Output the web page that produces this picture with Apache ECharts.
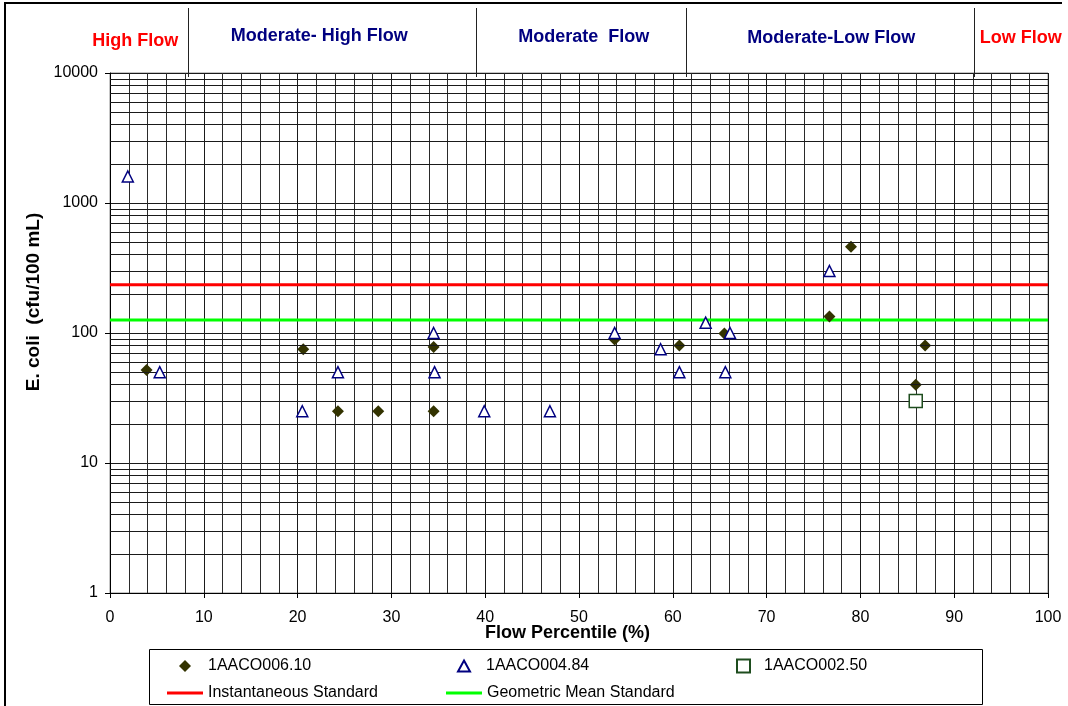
<!DOCTYPE html>
<html>
<head>
<meta charset="utf-8">
<script src="https://cdn.jsdelivr.net/npm/echarts@6/dist/echarts.min.js"></script>
<style>
  html, body { margin: 0; padding: 0; background: #fff; }
  #chart { width: 1068px; height: 706px; }
</style>
</head>
<body>
<div id="chart"></div>
<script>
// E. coli counts (cfu/100 mL) against flow percentile, by station
const station610Flow = [3.9, 20.6, 24.3, 28.6, 34.5, 34.5, 53.8, 60.7, 65.5, 76.7, 79.0, 85.9, 86.9];
const station610Ecoli = [52, 75, 25, 25, 78, 25, 89, 80, 99, 134, 461, 40, 80];

const station484Flow = [1.9, 5.3, 20.5, 24.3, 34.5, 34.6, 39.9, 46.9, 53.8, 58.7, 60.7, 63.5, 65.6, 66.1, 76.7];
const station484Ecoli = [1600, 50, 25, 50, 100, 50, 25, 25, 100, 75, 50, 120, 50, 100, 300];

const station250Flow = [85.9];
const station250Ecoli = [30];

// Water quality standards (cfu/100 mL)
const instantaneousStandard = 235;
const geometricMeanStandard = 126;

// Flow duration zones: boundaries and label anchors in flow-percentile units
const flowZoneNames = ['High Flow', 'Moderate- High Flow', 'Moderate  Flow', 'Moderate-Low Flow', 'Low Flow'];
const flowZoneCenters = [2.7, 22.3, 50.5, 76.9, 97.1];
const flowZoneBreaks = [8.3, 39.0, 61.4, 92.1];

// Axis ranges
const flowRange = [0, 100];
const ecoliDecades = [1, 10, 100, 1000];

const seriesNames = ['1AACO006.10', '1AACO004.84', '1AACO002.50', 'Instantaneous Standard', 'Geometric Mean Standard'];

const FONT = "'Liberation Sans', Arial, Helvetica, sans-serif";
const zoneColors = ['#ff0000', '#000080', '#000080', '#000080', '#ff0000'];
const zoneLabelY = [41, 36, 37, 38, 38];

const pair = (xs, ys) => xs.map((x, i) => [x, ys[i]]);

// horizontal minor grid of the log axis: 2..9 in every decade
const minorLogLines = [];
ecoliDecades.forEach(d => {
  for (let k = 2; k <= 9; k++) minorLogLines.push({ yAxis: k * d });
});

const chart = echarts.init(document.getElementById('chart'), null, { renderer: 'canvas' });

function legendFor(name, left, top, extra) {
  return Object.assign({
    left: left, top: top, padding: 0,
    orient: 'horizontal',
    selectedMode: false,
    data: [name],
    textStyle: { fontFamily: FONT, fontSize: 16, color: '#000' }
  }, extra);
}

const option = {
  animation: false,
  backgroundColor: '#fff',
  grid: {
    left: 110, top: 73, right: 20, bottom: 113,
    containLabel: false,
    outerBoundsMode: 'none',
    show: true,
    borderColor: '#8c8c8c',
    borderWidth: 1,
    backgroundColor: 'transparent'
  },
  xAxis: {
    type: 'value',
    min: flowRange[0], max: flowRange[1], interval: 10,
    name: 'Flow Percentile (%)',
    nameLocation: 'middle',
    nameGap: 31,
    nameMoveOverlap: false,
    nameTextStyle: { fontFamily: FONT, fontSize: 18, fontWeight: 'bold', color: '#000', padding: [0, 23, 0, 0] },
    axisLine: { show: true, onZero: false, lineStyle: { color: '#000', width: 1 } },
    axisTick: { show: true, inside: false, length: 5, lineStyle: { color: '#000' } },
    axisLabel: { fontFamily: FONT, fontSize: 16, color: '#000', margin: 17 },
    splitLine: { show: true, lineStyle: { color: '#1a1a1a', width: 1 } },
    minorTick: { show: false, splitNumber: 5 },
    minorSplitLine: { show: true, lineStyle: { color: '#2a2a2a', width: 1 } }
  },
  yAxis: {
    type: 'log',
    logBase: 10,
    min: 1, max: 10000,
    splitNumber: 4,
    name: 'E. coli  (cfu/100 mL)',
    nameLocation: 'middle',
    nameRotate: 90,
    nameGap: 67,
    nameMoveOverlap: false,
    nameTextStyle: { fontFamily: FONT, fontSize: 19, fontWeight: 'bold', color: '#000', padding: [0, 0, 0, 62] },
    axisLine: { show: true, lineStyle: { color: '#000', width: 1 } },
    axisTick: { show: true, inside: false, length: 5, lineStyle: { color: '#000' } },
    axisLabel: { fontFamily: FONT, fontSize: 16, color: '#000', margin: 12, formatter: v => String(v) },
    splitLine: { show: true, lineStyle: { color: '#1a1a1a', width: 1 } }
  },
  legend: [
    legendFor(seriesNames[0], 179, 658, { itemWidth: 12, itemHeight: 12, textStyle: { fontFamily: FONT, fontSize: 16, color: '#000', padding: [0, 0, 0, 12] } }),
    legendFor(seriesNames[1], 457, 658, { itemWidth: 12, itemHeight: 11, textStyle: { fontFamily: FONT, fontSize: 16, color: '#000', padding: [0, 0, 0, 11] } }),
    legendFor(seriesNames[2], 736, 658, { itemWidth: 13, itemHeight: 13, textStyle: { fontFamily: FONT, fontSize: 16, color: '#000', padding: [0, 0, 0, 9] } }),
    legendFor(seriesNames[3], 167, 685, { itemWidth: 36, itemHeight: 3, icon: 'rect' }),
    legendFor(seriesNames[4], 446, 685, { itemWidth: 36, itemHeight: 3, icon: 'rect' })
  ],
  series: [
    {
      name: 'log-minor-grid',
      type: 'scatter',
      data: [],
      silent: true,
      z: 1,
      markLine: {
        silent: true,
        symbol: ['none', 'none'],
        label: { show: false },
        lineStyle: { color: '#1a1a1a', width: 1, type: 'solid' },
        emphasis: { disabled: true },
        data: minorLogLines
      }
    },
    {
      name: seriesNames[3],
      type: 'line',
      data: flowRange.map(x => [x, instantaneousStandard]),
      symbol: 'none',
      lineStyle: { color: '#ff0000', width: 3 },
      itemStyle: { color: '#ff0000' },
      z: 3
    },
    {
      name: seriesNames[4],
      type: 'line',
      data: flowRange.map(x => [x, geometricMeanStandard]),
      symbol: 'none',
      lineStyle: { color: '#00ff00', width: 3 },
      itemStyle: { color: '#00ff00' },
      z: 3
    },
    {
      name: seriesNames[0],
      type: 'scatter',
      data: pair(station610Flow, station610Ecoli),
      symbol: 'diamond',
      symbolSize: 12,
      itemStyle: { color: '#333300', opacity: 1 },
      z: 4
    },
    {
      name: seriesNames[1],
      type: 'scatter',
      data: pair(station484Flow, station484Ecoli),
      symbol: 'triangle',
      symbolSize: 11,
      itemStyle: { color: '#ffffff', borderColor: '#000080', borderWidth: 1.5, opacity: 1 },
      z: 5
    },
    {
      name: seriesNames[2],
      type: 'scatter',
      data: pair(station250Flow, station250Ecoli),
      symbol: 'rect',
      symbolSize: 13,
      itemStyle: { color: '#ffffff', borderColor: '#1e4d1e', borderWidth: 1.5, opacity: 1 },
      z: 5
    }
  ]
};

chart.setOption(option);

// Header band: flow-zone dividers and names, placed on the flow axis
const toPx = v => chart.convertToPixel({ xAxisIndex: 0 }, v);
const graphics = [];

flowZoneBreaks.forEach(b => {
  const x = Math.round(toPx(b)) + 0.5;
  graphics.push({
    type: 'line', silent: true, z: 10,
    shape: { x1: x, y1: 8, x2: x, y2: 77 },
    style: { stroke: '#222', lineWidth: 1 }
  });
});

flowZoneNames.forEach((name, i) => {
  graphics.push({
    type: 'text', silent: true, z: 10,
    x: toPx(flowZoneCenters[i]), y: zoneLabelY[i],
    style: {
      text: name, fill: zoneColors[i],
      font: 'bold 18px ' + FONT,
      align: 'center', verticalAlign: 'middle'
    }
  });
});

// chart frame (top and left edges) and the legend box
graphics.push({
  type: 'polyline', silent: true, z: 10,
  shape: { points: [[5, 706], [5, 3], [1062, 3]] },
  style: { stroke: '#000', lineWidth: 2, fill: null }
});
graphics.push({
  type: 'rect', silent: true, z: 0,
  shape: { x: 149.5, y: 649.5, width: 833, height: 55 },
  style: { stroke: '#000', lineWidth: 1, fill: null }
});

chart.setOption({ graphic: graphics });
</script>
</body>
</html>
